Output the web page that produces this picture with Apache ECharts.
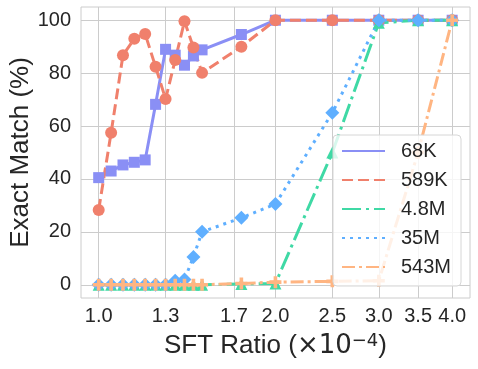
<!DOCTYPE html>
<html><head><meta charset="utf-8">
<script src="https://cdn.jsdelivr.net/npm/echarts@6/dist/echarts.min.js"></script>
<style>html,body{margin:0;padding:0;background:#fff}#c{width:478px;height:369px}</style>
</head><body><div id="c"></div>
<script>
const ratios = [1.0,1.05,1.1,1.15,1.2,1.25,1.3,1.35,1.4,1.45,1.5,1.75,2.0,2.5,3.0,3.5,4.0];
const s68K  = [40.5,43,45.3,46.3,47.2,68.2,89,86.8,83,86.5,88.8,94.6,100,100,100,100,100];
const s589K = [28.3,57.5,86.8,93,94.8,82.4,70.2,85,99.6,89.7,80.1,90,100,100,100,100,100];
const s4_8M = [0,0,0,0,0,0,0,0,0,0,0,0.3,0.5,50,99,100,100];
const s35M  = [0,0,0,0,0,0,0,1.5,2,10.5,20,25.3,30.5,65,100,100,100];
const s543M = [0,0,0,0,0,0,0,0,0,0,0,0.5,1,1.3,1.5,50,100];
const xTicks = [1.0,1.3,1.7,2.0,2.5,3.0,3.5,4.0];
const yTicks = [0,20,40,60,80,100];
const names = ['68K','589K','4.8M','35M','543M'];

const FONT = 'Liberation Sans, Arial, sans-serif';
const TXT = '#262626';
const pair = ys => ratios.map((x,i)=>[x, ys[i]]);
const plus = 'path://M3.5,0H6.5V3.5H10V6.5H6.5V10H3.5V6.5H0V3.5H3.5Z';
const styles = [
  {data:s68K, color:'#8A8FF5', dash:'solid', symbol:'rect', size:11},
  {data:s589K, color:'#F0806C', dash:[11,5], symbol:'circle', size:12},
  {data:s4_8M, color:'#3FD9A5', dash:[19,5,3,5], symbol:'triangle', size:12},
  {data:s35M, color:'#5FAFFF', dash:[3,5], symbol:'diamond', size:14},
  {data:s543M, color:'#FFB582', dash:[13,4,3,4], symbol:plus, size:12}
];
const series = styles.map((s,i)=>({
  name: names[i], type:'line', data: pair(s.data),
  symbol: s.symbol, symbolSize: s.size, showSymbol:true,
  lineStyle:{color:s.color, width:3, type:s.dash},
  itemStyle:{color:s.color},
  emphasis:{disabled:true}, animation:false
}));

const chart = echarts.init(document.getElementById('c'), null, {renderer:'canvas'});
chart.setOption({
  animation:false,
  textStyle:{fontFamily:FONT, color:TXT},
  grid:{left:81, right:8, top:7, bottom:71, containLabel:false, outerBoundsMode:'none',
        show:true, borderColor:'#cccccc', borderWidth:1, backgroundColor:'transparent'},
  xAxis:{
    type:'log', min:0.933, max:4.29, logBase:10,
    name:'SFT Ratio ({m|×10}{s|−4})', nameLocation:'middle', nameGap:34, nameMoveOverlap:false,
    nameTextStyle:{fontSize:26, color:TXT, fontFamily:FONT,
      rich:{m:{fontSize:26, fontFamily:'DejaVu Sans', color:TXT}, s:{fontSize:18, fontFamily:'DejaVu Sans', color:TXT, verticalAlign:'top', padding:[0,0,10,0]}}},
    axisLine:{show:false}, axisTick:{show:false, customValues:xTicks},
    axisLabel:{customValues:xTicks, fontSize:20, color:TXT, fontFamily:FONT, margin:8, formatter:v=>Number(v).toFixed(1)},
    splitLine:{show:true, lineStyle:{color:'#cccccc', width:1}}
  },
  yAxis:{
    type:'value', min:-5, max:105,
    name:'Exact Match (%)', nameLocation:'middle', nameGap:47, nameMoveOverlap:false,
    nameTextStyle:{fontSize:26, color:TXT, fontFamily:FONT},
    axisLine:{show:false}, axisTick:{show:false, customValues:yTicks},
    axisLabel:{customValues:yTicks, fontSize:20, color:TXT, fontFamily:FONT, margin:10},
    splitLine:{show:true, lineStyle:{color:'#cccccc', width:1}}
  },
  legend:{
    orient:'vertical', left:333, top:135,
    data:names,
    itemWidth:43, itemHeight:3, itemGap:9,
    itemStyle:{opacity:0},
    padding:[6,10,9,8],
    backgroundColor:'rgba(255,255,255,0.8)', borderColor:'#d6d6d6', borderWidth:1, borderRadius:4,
    textStyle:{fontSize:20, color:TXT, fontFamily:FONT, lineHeight:20, padding:[0,0,0,11]}
  },
  series: series
});
</script></body></html>
